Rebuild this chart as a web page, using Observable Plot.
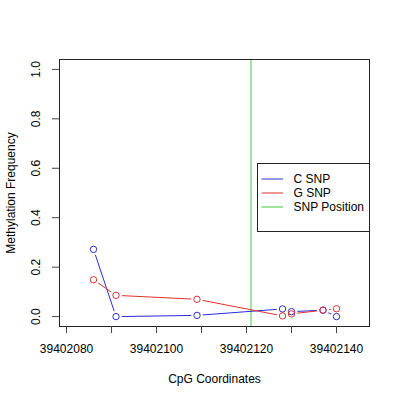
<!DOCTYPE html>
<html><head>
<meta charset="utf-8">
<script src="https://cdn.jsdelivr.net/npm/d3@7"></script>
<script src="https://cdn.jsdelivr.net/npm/@observablehq/plot@0.6"></script>
<style>
body{margin:0;background:#fff}
#wrap{position:relative;width:400px;height:400px;font-family:"Liberation Sans",Arial,Helvetica,sans-serif}
#legend{position:absolute;left:256.5px;top:163px;width:111.5px;height:67px;border:1px solid #222;background:#fff;font-size:12px;color:#000}
#legend .row{position:absolute;left:0;height:14px;line-height:14px;width:110px}
#legend svg{position:absolute;left:3px;top:0}
#legend span{position:absolute;left:36px;top:0;white-space:nowrap}
</style>
</head><body>
<div id="wrap"></div>
<script>
// ---- data ----
const positions = [39402086, 39402091, 39402109, 39402128, 39402130, 39402137, 39402140];
const cSnp = [0.272, 0.0, 0.005, 0.031, 0.02, 0.026, 0.0];
const gSnp = [0.149, 0.086, 0.070, 0.003, 0.011, 0.026, 0.032];
const snpPosition = [39402121];
const seriesNames = ["C SNP", "G SNP", "SNP Position"];
const seriesColors = ["#2b2bd6", "#dd3030", "#38cc38"];
const xTicks = [39402080, 39402090, 39402100, 39402110, 39402120, 39402130, 39402140];
const xLabels = [39402080, 39402100, 39402120, 39402140];
const yTicks = [0, 0.2, 0.4, 0.6, 0.8, 1.0];
const yLabels = ["0.0", "0.2", "0.4", "0.6", "0.8", "1.0"];

const rows = positions.flatMap((p, i) => [
  {pos: p, val: cSnp[i], s: seriesNames[0]},
  {pos: p, val: gSnp[i], s: seriesNames[1]}
]);

const chart = Plot.plot({
  width: 400, height: 400,
  marginLeft: 59, marginRight: 31, marginTop: 59, marginBottom: 74,
  x: {domain: [39402078.44, 39402147.33]},
  y: {domain: [-0.04, 1.04]},
  color: {domain: seriesNames.slice(0, 2), range: seriesColors.slice(0, 2)},
  style: {fontFamily: '"Liberation Sans", Arial, Helvetica, sans-serif', fontSize: "12px", color: "#000", background: "#fff"},
  marks: [
    Plot.ruleX(snpPosition, {stroke: seriesColors[2], strokeWidth: 1}),
    Plot.line(rows, {x: "pos", y: "val", z: "s", stroke: "s", strokeWidth: 1}),
    Plot.dot(rows, {x: "pos", y: "val", r: 5.8, fill: "#fff", stroke: null}),
    Plot.dot(rows, {x: "pos", y: "val", r: 3.2, stroke: "s", fill: "none", strokeWidth: 1}),
    Plot.frame({stroke: "#222"}),
    Plot.axisX({ticks: xTicks, tickSize: 7, tickPadding: 11, stroke: "#444",
      tickFormat: d => xLabels.includes(d) ? String(d) : "", label: null}),
    Plot.axisY({ticks: yTicks, tickSize: 7, tickPadding: 13, tickRotate: -90, textAnchor: "middle", stroke: "#444",
      tickFormat: d => yLabels[yTicks.indexOf(d)], label: null}),
    Plot.text(["Methylation Frequency"], {frameAnchor: "left", dx: -48.5, rotate: -90, textAnchor: "middle", lineAnchor: "middle", fontSize: 12}),
    Plot.text(["CpG Coordinates"], {frameAnchor: "bottom", dy: 53, textAnchor: "middle", lineAnchor: "middle", fontSize: 12})
  ]
});

const wrap = document.getElementById("wrap");
wrap.appendChild(chart);

// legend
const legend = document.createElement("div");
legend.id = "legend";
const rowTops = [8, 22.4, 36.4];
seriesNames.forEach((name, i) => {
  const row = document.createElement("div");
  row.className = "row";
  row.style.top = rowTops[i] + "px";
  row.innerHTML = `<svg width="24" height="14"><line x1="0.5" x2="22" y1="7" y2="7" stroke="${seriesColors[i]}" stroke-width="1"/></svg><span>${name}</span>`;
  legend.appendChild(row);
});
wrap.appendChild(legend);
</script>
</body></html>
